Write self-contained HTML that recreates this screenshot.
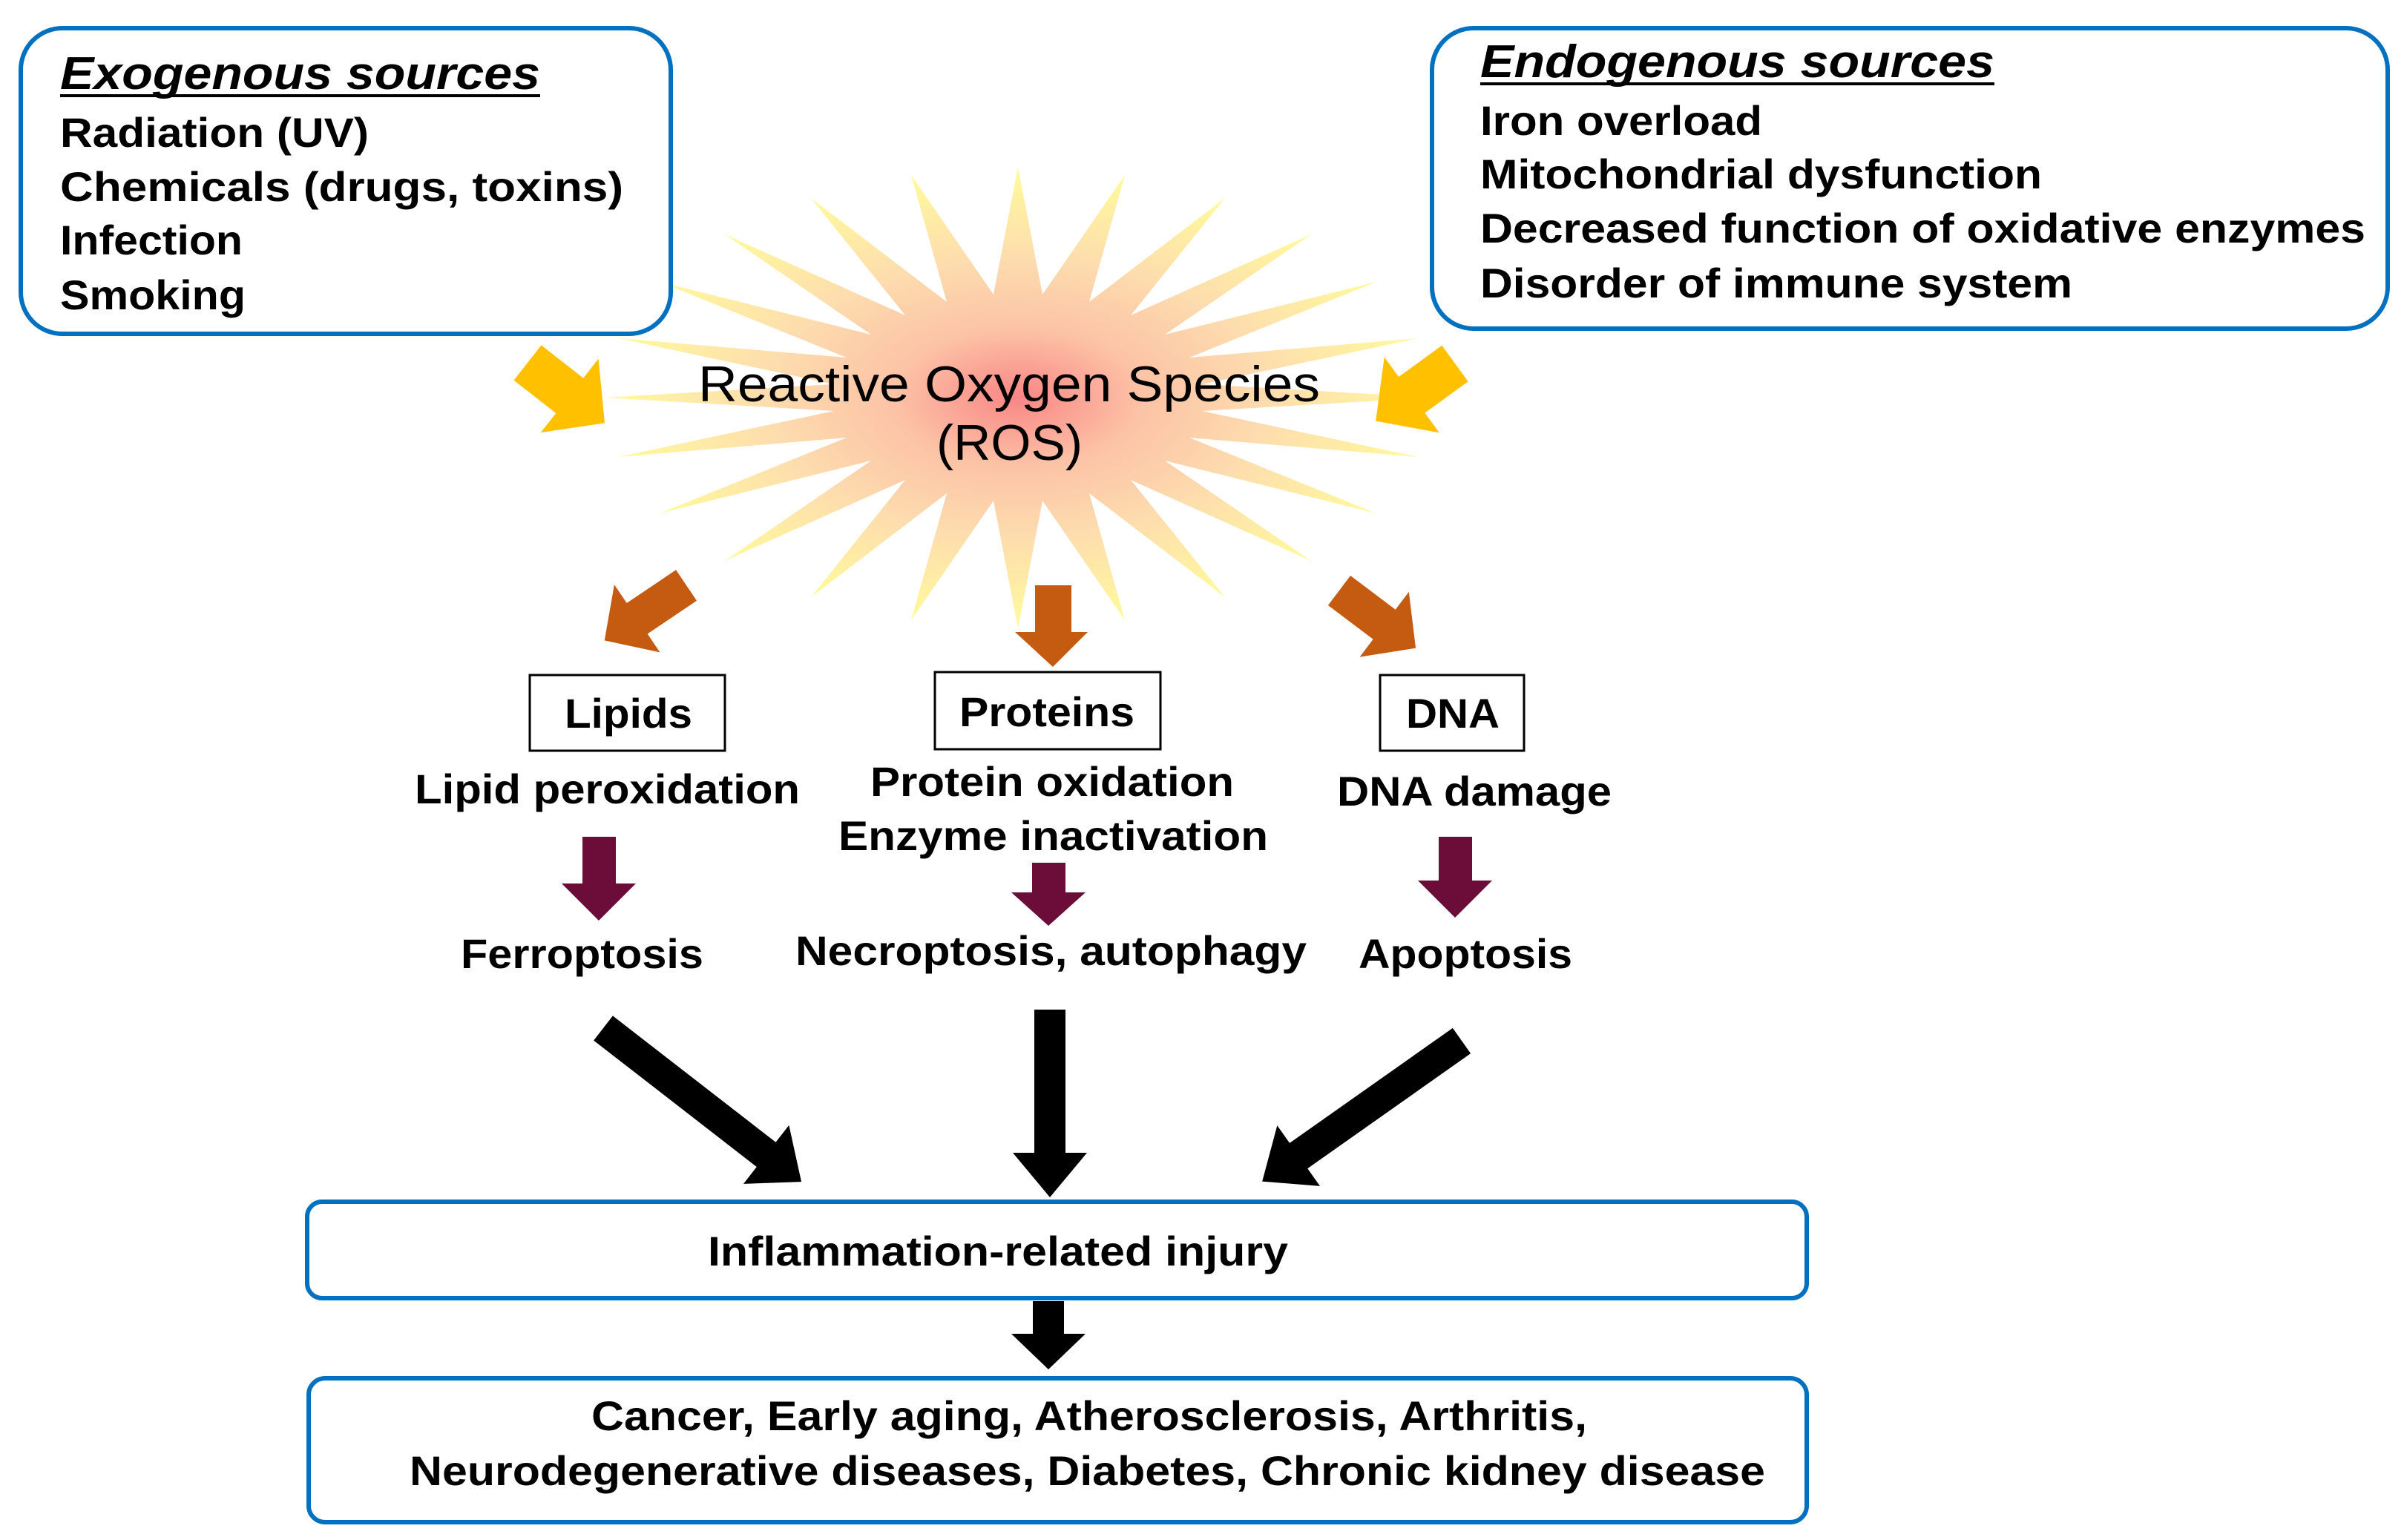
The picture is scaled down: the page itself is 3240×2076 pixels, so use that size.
<!DOCTYPE html>
<html><head><meta charset="utf-8"><style>
html,body{margin:0;padding:0;background:#fff}
svg{display:block}
text{font-family:"Liberation Sans",Arial,sans-serif;font-weight:bold;fill:#000}
</style></head><body>
<svg width="3240" height="2076" viewBox="0 0 3240 2076" xmlns="http://www.w3.org/2000/svg">
<defs>
<radialGradient id="g" cx="0.5" cy="0.5" r="0.5">
<stop offset="0" stop-color="#f98686"/>
<stop offset="0.3" stop-color="#fcc3a6"/>
<stop offset="0.6" stop-color="#fddcae"/>
<stop offset="1" stop-color="#fffb9c"/>
</radialGradient>
</defs>

<!-- starburst -->
<polygon fill="url(#g)" points="1930,536 1620,554 1911,616 1603,590 1855,692 1570,621 1767,756 1524,647 1651,805 1468,665 1516,836 1405,675 1372,847 1339,675 1228,836 1276,665 1093,805 1220,647 977,756 1174,621 889,692 1141,590 833,616 1124,554 814,536 1124,518 833,456 1141,482 889,380 1174,451 977,316 1220,425 1093,267 1276,407 1228,236 1339,397 1372,225 1405,397 1516,236 1468,407 1651,267 1524,425 1767,316 1570,451 1855,380 1603,482 1911,456 1620,518"/>

<!-- source boxes -->
<rect x="28" y="38" width="876" height="412" rx="56" fill="#fff" fill-opacity="0.85" stroke="#0070c0" stroke-width="6"/>
<rect x="1930" y="38" width="1288" height="405" rx="56" fill="#fff" stroke="#0070c0" stroke-width="6"/>

<text x="81" y="120" font-size="62" font-style="italic" textLength="647" lengthAdjust="spacingAndGlyphs">Exogenous sources</text>
<rect x="81" y="127" width="647" height="4" fill="#000"/>
<text x="81" y="198" font-size="56" textLength="416" lengthAdjust="spacingAndGlyphs">Radiation (UV)</text>
<text x="81" y="271" font-size="56" textLength="759" lengthAdjust="spacingAndGlyphs">Chemicals  (drugs, toxins)</text>
<text x="81" y="343" font-size="56" textLength="246" lengthAdjust="spacingAndGlyphs">Infection</text>
<text x="81" y="417" font-size="56" textLength="250" lengthAdjust="spacingAndGlyphs">Smoking</text>

<text x="1995" y="104" font-size="62" font-style="italic" textLength="693" lengthAdjust="spacingAndGlyphs">Endogenous sources</text>
<rect x="1995" y="111" width="693" height="4" fill="#000"/>
<text x="1995" y="182" font-size="56" textLength="380" lengthAdjust="spacingAndGlyphs">Iron overload</text>
<text x="1995" y="254" font-size="56" textLength="757" lengthAdjust="spacingAndGlyphs">Mitochondrial dysfunction</text>
<text x="1995" y="327" font-size="56" textLength="1193" lengthAdjust="spacingAndGlyphs">Decreased function of oxidative enzymes</text>
<text x="1995" y="401" font-size="56" textLength="798" lengthAdjust="spacingAndGlyphs">Disorder of immune system</text>

<!-- ROS text -->
<text x="941" y="541" font-size="68" font-weight="normal" style="font-weight:normal" textLength="838" lengthAdjust="spacingAndGlyphs">Reactive Oxygen Species</text>
<text x="1262" y="620" font-size="68" style="font-weight:normal" textLength="197" lengthAdjust="spacingAndGlyphs">(ROS)</text>

<!-- yellow arrows -->
<polygon fill="#ffc000" transform="translate(711,489) rotate(38)" points="0,-30 72,-30 72,-63 132,0 72,63 72,30 0,30"/>
<polygon fill="#ffc000" transform="translate(1961,490) rotate(144)" points="0,-30 72,-30 72,-63 132,0 72,63 72,30 0,30"/>

<!-- orange arrows -->
<polygon fill="#c55a11" transform="translate(925,789) rotate(146)" points="0,-25 80,-25 80,-55 133,0 80,55 80,25 0,25"/>
<polygon fill="#c55a11" points="1395,789 1444,789 1444,852 1466,852 1419,899 1368,852 1395,852"/>
<polygon fill="#c55a11" transform="translate(1805,796) rotate(37)" points="0,-25 76,-25 76,-55 129,0 76,55 76,25 0,25"/>

<!-- molecule boxes -->
<rect x="714" y="910" width="263" height="102" fill="#fff" stroke="#000" stroke-width="3"/>
<rect x="1260" y="906" width="304" height="104" fill="#fff" stroke="#000" stroke-width="3"/>
<rect x="1860" y="910" width="194" height="102" fill="#fff" stroke="#000" stroke-width="3"/>
<text x="761" y="981" font-size="56" textLength="172" lengthAdjust="spacingAndGlyphs">Lipids</text>
<text x="1293" y="979" font-size="56" textLength="236" lengthAdjust="spacingAndGlyphs">Proteins</text>
<text x="1895" y="981" font-size="56" textLength="126" lengthAdjust="spacingAndGlyphs">DNA</text>

<text x="559" y="1083" font-size="56" textLength="519" lengthAdjust="spacingAndGlyphs">Lipid peroxidation</text>
<text x="1173" y="1073" font-size="56" textLength="490" lengthAdjust="spacingAndGlyphs">Protein oxidation</text>
<text x="1130" y="1146" font-size="56" textLength="579" lengthAdjust="spacingAndGlyphs">Enzyme inactivation</text>
<text x="1802" y="1086" font-size="56" textLength="370" lengthAdjust="spacingAndGlyphs">DNA damage</text>

<!-- purple arrows -->
<polygon fill="#6b0d38" points="785,1128 830,1128 830,1191 857,1191 807,1241 757,1191 785,1191"/>
<polygon fill="#6b0d38" points="1391,1163 1436,1163 1436,1203 1463,1203 1413,1248 1363,1203 1391,1203"/>
<polygon fill="#6b0d38" points="1939,1128 1984,1128 1984,1187 2011,1187 1961,1237 1911,1187 1939,1187"/>

<text x="621" y="1305" font-size="56" textLength="327" lengthAdjust="spacingAndGlyphs">Ferroptosis</text>
<text x="1072" y="1301" font-size="56" textLength="689" lengthAdjust="spacingAndGlyphs">Necroptosis, autophagy</text>
<text x="1831" y="1305" font-size="56" textLength="288" lengthAdjust="spacingAndGlyphs">Apoptosis</text>

<!-- black arrows -->
<polygon fill="#000" transform="translate(813,1386) rotate(37.8)" points="0,-21 278,-21 278,-50 338,0 278,50 278,21 0,21"/>
<polygon fill="#000" points="1394,1361 1436,1361 1436,1554 1465,1554 1415,1614 1365,1554 1394,1554"/>
<polygon fill="#000" transform="translate(1970,1403) rotate(144.8)" points="0,-21 269,-21 269,-50 329,0 269,50 269,21 0,21"/>

<!-- inflammation box -->
<rect x="414" y="1620" width="2021" height="130" rx="20" fill="#fff" stroke="#0070c0" stroke-width="6"/>
<text x="954" y="1706" font-size="56" textLength="782" lengthAdjust="spacingAndGlyphs">Inflammation-related injury</text>

<polygon fill="#000" points="1392,1754 1434,1754 1434,1798 1463,1798 1413,1846 1363,1798 1392,1798"/>

<!-- diseases box -->
<rect x="416" y="1858" width="2019" height="194" rx="22" fill="#fff" stroke="#0070c0" stroke-width="6"/>
<text x="797" y="1928" font-size="56" textLength="1342" lengthAdjust="spacingAndGlyphs">Cancer, Early aging, Atherosclerosis, Arthritis,</text>
<text x="552" y="2002" font-size="56" textLength="1827" lengthAdjust="spacingAndGlyphs">Neurodegenerative diseases, Diabetes, Chronic kidney disease</text>
</svg>
</body></html>
